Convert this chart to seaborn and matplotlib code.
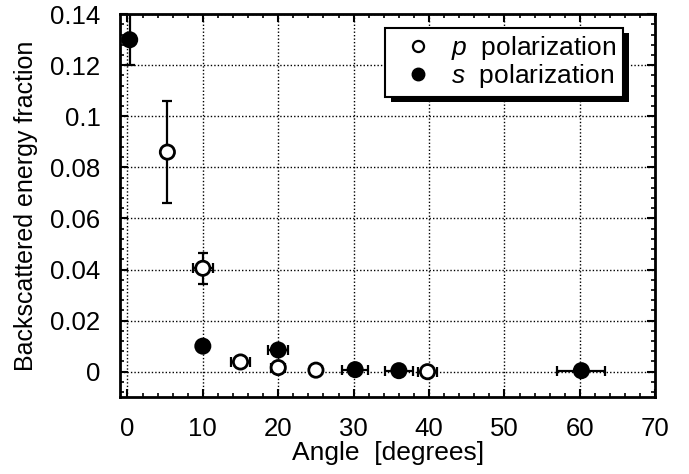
import matplotlib
matplotlib.use("Agg")
import matplotlib.pyplot as plt
import matplotlib.patheffects as pe
from matplotlib.lines import Line2D
from matplotlib.ticker import MultipleLocator
import seaborn as sns
import pandas as pd

# ---- data ----
p_angle = [5.3, 10, 15, 20, 25, 39.8]
p_frac = [0.086, 0.0405, 0.0038, 0.0016, 0.0006, 0.0000]
p_xerr = [0.6, 1.3, 1.2, 0.9, 0.8, 1.3]
p_yerr = [0.020, 0.006, 0.0, 0.0, 0.0, 0.0]

s_angle = [0.3, 10, 20, 30.2, 36, 60.2]
s_frac = [0.130, 0.0100, 0.0085, 0.0008, 0.0004, 0.0004]
s_xerr = [0.0, 0.0, 1.3, 1.7, 1.9, 3.2]
s_yerr = [0.010, 0.0, 0.0, 0.0, 0.0, 0.0]

x_ticks = [0, 10, 20, 30, 40, 50, 60, 70]
y_ticks = [0, 0.02, 0.04, 0.06, 0.08, 0.1, 0.12, 0.14]
y_ticklabels = ["0", "0.02", "0.04", "0.06", "0.08", "0.1", "0.12", "0.14"]
x_label = "Angle  [degrees]"
y_label = "Backscattered energy fraction"
legend_labels = [r"$\mathit{p}$  polarization", r"$\mathit{s}$  polarization"]

df = pd.DataFrame({
    "angle": p_angle + s_angle,
    "frac": p_frac + s_frac,
    "pol": ["p"] * len(p_angle) + ["s"] * len(s_angle),
})

sns.set_theme(style="ticks")
plt.rcParams["font.family"] = ["Liberation Sans", "DejaVu Sans"]
plt.rcParams["mathtext.fontset"] = "custom"
plt.rcParams["mathtext.it"] = "Liberation Sans:italic"
plt.rcParams["mathtext.rm"] = "Liberation Sans"
plt.rcParams["text.color"] = "black"
plt.rcParams["axes.labelcolor"] = "black"
plt.rcParams["xtick.color"] = "black"
plt.rcParams["ytick.color"] = "black"

FS = 18.5
LFS = 19

fig = plt.figure(figsize=(6.89, 4.74), dpi=100)
ax = fig.add_axes([0.174, 0.162, 0.777, 0.808])

# grid
ax.set_axisbelow(True)
ax.grid(True, which="major", color="black", linestyle=(0, (1, 1.5)), linewidth=1.0)

# error bars
ax.errorbar(p_angle, p_frac, xerr=p_xerr, yerr=p_yerr, fmt="none",
            ecolor="black", elinewidth=1.6, capsize=3.5, capthick=1.6, zorder=3)
ax.errorbar(s_angle, s_frac, xerr=s_xerr, yerr=s_yerr, fmt="none",
            ecolor="black", elinewidth=1.6, capsize=3.5, capthick=1.6, zorder=3)

# markers
sns.scatterplot(data=df, x="angle", y="frac", hue="pol",
                palette={"p": "white", "s": "black"}, edgecolor="black",
                linewidth=2.0, s=105, legend=False, ax=ax, zorder=4, clip_on=False)

ax.set_xlim(-1, 70)
ax.set_ylim(-0.01, 0.14)
ax.set_xticks(x_ticks)
ax.set_yticks(y_ticks)
ax.set_yticklabels(y_ticklabels)
ax.xaxis.set_minor_locator(MultipleLocator(2))
ax.yaxis.set_minor_locator(MultipleLocator(0.004))
ax.tick_params(which="both", direction="in", top=True, right=True, color="black")
ax.tick_params(which="major", length=6, width=1.5, labelsize=FS, labelcolor="black")
ax.tick_params(axis="x", which="major", pad=14)
ax.tick_params(axis="y", which="major", pad=14)
ax.tick_params(which="minor", length=3, width=1.2)
for sp in ax.spines.values():
    sp.set_linewidth(2.0)
    sp.set_color("black")

ax.set_xlabel(x_label, fontsize=LFS, labelpad=0, color="black")
ax.set_ylabel(y_label, fontsize=18, labelpad=9, color="black")

handles = [
    Line2D([], [], marker="o", linestyle="none", markerfacecolor="white",
           markeredgecolor="black", markeredgewidth=1.6, markersize=8),
    Line2D([], [], marker="o", linestyle="none", markerfacecolor="black",
           markeredgecolor="black", markersize=9),
]
leg = ax.legend(handles, legend_labels, loc="upper right",
                bbox_to_anchor=(0.94, 0.965), fontsize=LFS, frameon=True,
                fancybox=False, framealpha=1, edgecolor="black",
                handletextpad=0.25, borderpad=0.25, labelspacing=0.0,
                handlelength=2.0, borderaxespad=0)
for t in leg.get_texts():
    t.set_color("black")
frame = leg.get_frame()
frame.set_linewidth(1.5)
frame.set_path_effects([pe.SimplePatchShadow(offset=(4, -4), shadow_rgbFace="black", alpha=1.0),
                        pe.Normal()])
leg.set_zorder(10)

fig.savefig("out.png", dpi=100, facecolor="white")
